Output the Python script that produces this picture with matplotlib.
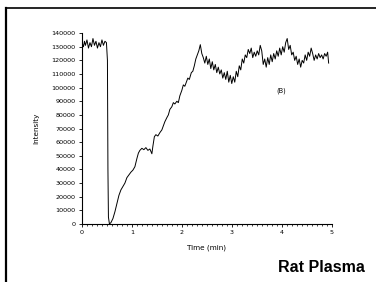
import matplotlib
matplotlib.use("Agg")
import matplotlib.pyplot as plt
from matplotlib.lines import Line2D
from matplotlib.ticker import MultipleLocator

time_min = [0.00, 0.03, 0.05, 0.07, 0.10, 0.13, 0.16, 0.19, 0.22, 0.25, 0.28, 0.31, 0.34, 0.37,
            0.40, 0.43, 0.46, 0.49, 0.51, 0.52, 0.53, 0.55, 0.58, 0.62, 0.66, 0.70, 0.74, 0.78,
            0.82, 0.86, 0.90, 0.94, 0.98, 1.02, 1.06, 1.10, 1.13, 1.16, 1.20, 1.24, 1.28, 1.32,
            1.36, 1.40, 1.42, 1.45, 1.48, 1.52, 1.56, 1.60, 1.63, 1.66, 1.70, 1.73, 1.76, 1.80,
            1.83, 1.86, 1.90, 1.93, 1.96, 2.00, 2.03, 2.06, 2.09, 2.12, 2.15, 2.19, 2.22, 2.25,
            2.28, 2.31, 2.34, 2.37, 2.40, 2.43, 2.46, 2.49, 2.52, 2.55, 2.58, 2.61, 2.64, 2.67,
            2.70, 2.73, 2.76, 2.79, 2.82, 2.85, 2.88, 2.91, 2.94, 2.97, 3.00, 3.03, 3.06, 3.09,
            3.12, 3.15, 3.18, 3.21, 3.24, 3.27, 3.30, 3.33, 3.36, 3.39, 3.42, 3.45, 3.48, 3.51,
            3.54, 3.57, 3.60, 3.63, 3.66, 3.69, 3.72, 3.75, 3.78, 3.81, 3.84, 3.87, 3.90, 3.93,
            3.96, 3.99, 4.02, 4.05, 4.08, 4.11, 4.14, 4.17, 4.20, 4.23, 4.26, 4.29, 4.32, 4.35,
            4.38, 4.41, 4.44, 4.47, 4.50, 4.53, 4.56, 4.59, 4.62, 4.65, 4.68, 4.71, 4.74, 4.77,
            4.80, 4.83, 4.86, 4.89, 4.92, 4.94]

intensity = [133000, 130000, 134000, 131000, 135000, 129000, 133000, 130000, 136000, 131000,
             134000, 129000, 133000, 130000, 135000, 131000, 134000, 133000, 120000, 40000,
             5000, 0, 1000, 4000, 9000, 15000, 21000, 25000, 27500, 30000, 34000, 36000, 38000,
             39500, 42000, 48000, 52000, 54000, 55500, 54500, 56000, 54000, 55000, 51500, 57000,
             64000, 65500, 64500, 67000, 69000, 72000, 75000, 78000, 80000, 84000, 86000, 89000,
             88000, 90000, 89000, 94000, 98000, 102000, 101000, 104000, 107000, 106000, 111000,
             112000, 116000, 121000, 124000, 127000, 131500, 125000, 122000, 118000, 123000,
             117000, 121000, 114000, 119000, 113000, 117000, 111000, 115000, 110000, 113000,
             107000, 111000, 106000, 112000, 104000, 109000, 103000, 108000, 104000, 112000,
             108000, 116000, 113000, 121000, 118000, 124000, 122000, 128000, 125000, 129000,
             122000, 126000, 123000, 127000, 124000, 131000, 127000, 117000, 121000, 115000,
             122000, 117000, 124000, 119000, 125000, 121000, 127000, 123000, 129000, 124000,
             130000, 126000, 133000, 136000, 128000, 131000, 124000, 126000, 120000, 123000,
             117000, 121000, 115000, 120000, 118000, 124000, 120000, 126000, 123000, 129000,
             125000, 120000, 124000, 121000, 125000, 122000, 124000, 121000, 125000, 123000,
             126000, 118000]

x_ticks = [0, 1, 2, 3, 4, 5]
y_ticks = list(range(0, 140001, 10000))

fig = plt.figure(figsize=(3.76, 2.82), dpi=100)
ax = fig.add_axes([0.218, 0.2057, 0.664, 0.677])
ax.plot(time_min, intensity, color="black", linewidth=0.7)
ax.set_xlim(0, 5)
ax.set_ylim(0, 140000)
ax.set_xticks(x_ticks)
ax.set_yticks(y_ticks)
ax.set_yticklabels([str(v) for v in y_ticks])
ax.xaxis.set_minor_locator(MultipleLocator(0.1))
ax.spines["top"].set_visible(False)
ax.spines["right"].set_visible(False)
for s in ("left", "bottom"):
    ax.spines[s].set_linewidth(0.8)
ax.tick_params(axis="both", which="major", labelsize=4.6, length=2.5, width=0.6, pad=2)
ax.tick_params(axis="x", which="minor", length=1.2, width=0.5)
ax.set_xlabel("Time (min)", fontsize=5.2, labelpad=7)
ax.set_ylabel("Intensity", fontsize=5.2, labelpad=9)
ax.text(3.99, 98000, "(B)", fontsize=4.8, ha="center", va="center")

fig.text(365 / 376, 1 - 268 / 282, "Rat Plasma", fontsize=11.5, fontweight="bold",
         family=["Liberation Sans", "DejaVu Sans"], ha="right", va="center")

fig.add_artist(Line2D([6 / 376, 6 / 376], [0, 1 - 8 / 282], transform=fig.transFigure,
                      color="black", linewidth=1.6))
fig.add_artist(Line2D([6 / 376, 1], [1 - 8 / 282, 1 - 8 / 282], transform=fig.transFigure,
                      color="black", linewidth=1.2))

fig.savefig("out.png", dpi=100)
